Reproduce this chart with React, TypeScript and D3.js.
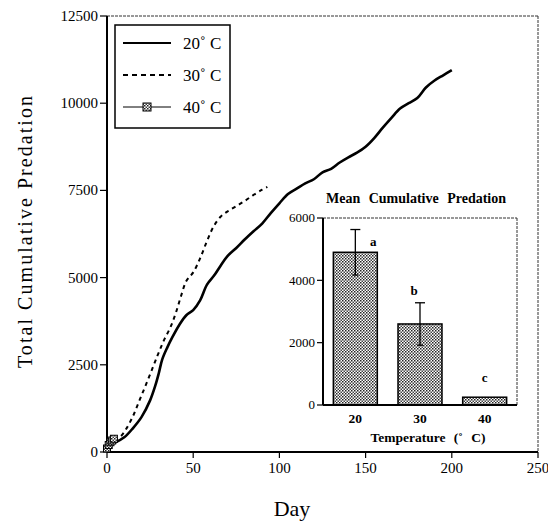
import React from 'react';
import * as d3 from 'd3';

// 20 deg C series (day, cumulative predation)
const days20 = [0, 3, 5, 10, 15, 20, 25, 28, 30, 32, 35, 38, 42, 46, 50, 54, 58, 62, 66, 70, 75, 80, 85, 90, 95, 100, 105, 110, 115, 120, 125, 130, 135, 140, 145, 150, 155, 160, 165, 170, 175, 180, 185, 190, 195, 200];
const values20 = [200, 250, 280, 420, 680, 1000, 1480, 1900, 2250, 2650, 3000, 3300, 3650, 3920, 4070, 4350, 4800, 5050, 5350, 5620, 5850, 6100, 6330, 6550, 6850, 7130, 7400, 7550, 7700, 7820, 8020, 8120, 8300, 8450, 8580, 8750, 9000, 9300, 9580, 9850, 10000, 10150, 10450, 10650, 10800, 10950];

// 30 deg C series
const days30 = [0, 3, 5, 8, 11, 15, 19, 23, 27, 30, 33, 37, 40, 43, 46, 50, 54, 58, 62, 66, 70, 75, 80, 85, 90, 93];
const values30 = [250, 300, 350, 450, 650, 1020, 1500, 1980, 2480, 2850, 3200, 3600, 4000, 4480, 4900, 5150, 5550, 6050, 6480, 6750, 6900, 7050, 7200, 7370, 7520, 7600];

// 40 deg C series
const days40 = [0, 1, 2, 3, 4];
const values40 = [100, 200, 280, 330, 380];

const xTicks = [0, 50, 100, 150, 200, 250];
const yTicks = [0, 2500, 5000, 7500, 10000, 12500];

const legendLabels = ['20˚ C', '30˚ C', '40˚ C'];

// inset bar chart
const temps = ['20', '30', '40'];
const means = [4900, 2600, 250];
const errors = [730, 680, 0];
const groupLetters = ['a', 'b', 'c'];
const insetTicks = [0, 2000, 4000, 6000];

const serif = "'Liberation Serif', 'Times New Roman', Times, serif";

function App() {
  const x = d3.scaleLinear().domain([0, 250]).range([107, 538]);
  const y = d3.scaleLinear().domain([0, 12500]).range([452, 16]);

  const line = d3
    .line<[number, number]>()
    .x((d) => x(d[0]))
    .y((d) => y(d[1]))
    .curve(d3.curveCatmullRom);

  const pts20 = days20.map((d, i) => [d, values20[i]] as [number, number]);
  const pts30 = days30.map((d, i) => [d, values30[i]] as [number, number]);
  const pts40 = days40.map((d, i) => [d, values40[i]] as [number, number]);

  const xb = d3.scaleBand().domain(temps).range([323, 517]).paddingInner(0.32).paddingOuter(0.16);
  const yb = d3.scaleLinear().domain([0, 6000]).range([405, 218]);

  const letterPos = (i: number) => {
    const cx = xb(temps[i])! + xb.bandwidth() / 2;
    if (i === 0) return { x: cx + 18, y: yb(means[i] + errors[i]) + 12 };
    if (i === 1) return { x: cx - 6, y: yb(means[i] + errors[i]) - 12 };
    return { x: cx, y: yb(means[i]) - 20 };
  };

  return (
    <svg
      width={548}
      height={525}
      style={{ position: 'absolute', left: 0, top: 0, background: '#fff', fontFamily: serif }}
    >
      <defs>
        <pattern id="dots" width="3" height="3" patternUnits="userSpaceOnUse">
          <rect width="3" height="3" fill="#fff" />
          <rect x="0" y="0" width="1.5" height="1.5" fill="#222" />
          <rect x="1.5" y="1.5" width="1.5" height="1.5" fill="#444" />
        </pattern>
      </defs>

      {/* main frame */}
      <g>
        <line x1={x(0)} x2={x(250)} y1={y(12500)} y2={y(12500)} stroke="#333" strokeWidth={1} strokeDasharray="3 1" />
        <line x1={x(250)} x2={x(250)} y1={y(12500)} y2={y(0)} stroke="#333" strokeWidth={1} strokeDasharray="3 1" />
        <line x1={x(0)} x2={x(0)} y1={y(12500)} y2={y(0)} stroke="#000" strokeWidth={2} />
        <line x1={x(0)} x2={x(250)} y1={y(0)} y2={y(0)} stroke="#000" strokeWidth={2} />
        {xTicks.map((t) => (
          <g key={t} transform={`translate(${x(t)} ${y(0)})`}>
            <line y1={0} y2={6} stroke="#000" strokeWidth={1.2} />
            <text y={21} textAnchor="middle" fontSize={15}>
              {t}
            </text>
          </g>
        ))}
        {yTicks.map((t) => (
          <g key={t} transform={`translate(${x(0)} ${y(t)})`}>
            <line x1={-7} x2={0} stroke="#000" strokeWidth={1.2} />
            <text x={-9} dy="0.33em" textAnchor="end" fontSize={15}>
              {t}
            </text>
          </g>
        ))}
        <text x={292} y={516} textAnchor="middle" fontSize={22}>
          Day
        </text>
        <text
          transform={`translate(32 ${232}) rotate(-90)`}
          textAnchor="middle"
          fontSize={20}
          textLength={272}
          lengthAdjust="spacing"
        >
          Total Cumulative Predation
        </text>
      </g>

      {/* series */}
      <path d={line(pts20)!} fill="none" stroke="#000" strokeWidth={2.6} />
      <path d={line(pts30)!} fill="none" stroke="#000" strokeWidth={2} strokeDasharray="4 4" />
      <path d={line(pts40)!} fill="none" stroke="#000" strokeWidth={1} />
      {pts40.map((p, i) => (
        <rect
          key={i}
          x={x(p[0]) - 3.5}
          y={y(p[1]) - 3.5}
          width={7}
          height={7}
          fill="url(#dots)"
          stroke="#000"
          strokeWidth={1}
        />
      ))}

      {/* legend */}
      <g>
        <rect x={115} y={25} width={115} height={103} fill="#fff" stroke="#000" strokeWidth={1.5} />
        {legendLabels.map((lab, i) => {
          const ly = 43 + i * 32;
          return (
            <g key={lab}>
              <line
                x1={123}
                x2={171}
                y1={ly}
                y2={ly}
                stroke="#000"
                strokeWidth={i === 2 ? 1 : 1.8}
                strokeDasharray={i === 1 ? '5 4' : undefined}
              />
              {i === 2 && (
                <rect x={143} y={ly - 4} width={8} height={8} fill="url(#dots)" stroke="#000" strokeWidth={1} />
              )}
              <text x={183} y={ly + 6} fontSize={17}>
                {lab}
              </text>
            </g>
          );
        })}
      </g>

      {/* inset */}
      <g>
        <text x={416} y={203} textAnchor="middle" fontSize={14} fontWeight="bold" wordSpacing={5}>
          Mean Cumulative Predation
        </text>
        <line x1={323} x2={517} y1={218} y2={218} stroke="#333" strokeWidth={1} strokeDasharray="3 1" />
        <line x1={517} x2={517} y1={218} y2={405} stroke="#333" strokeWidth={1} strokeDasharray="3 1" />
        {temps.map((t, i) => {
          const bx = xb(t)!;
          const cx = bx + xb.bandwidth() / 2;
          return (
            <g key={t}>
              <rect
                x={bx}
                y={yb(means[i])}
                width={xb.bandwidth()}
                height={yb(0) - yb(means[i])}
                fill="url(#dots)"
                stroke="#000"
                strokeWidth={1.5}
              />
              {errors[i] > 0 && (
                <g stroke="#000" strokeWidth={1.3}>
                  <line x1={cx} x2={cx} y1={yb(means[i] - errors[i])} y2={yb(means[i] + errors[i])} />
                  <line x1={cx - 5} x2={cx + 5} y1={yb(means[i] + errors[i])} y2={yb(means[i] + errors[i])} />
                  <line x1={cx - 3} x2={cx + 3} y1={yb(means[i] - errors[i])} y2={yb(means[i] - errors[i])} />
                </g>
              )}
              <text x={letterPos(i).x} y={letterPos(i).y} dy="0.35em" textAnchor="middle" fontSize={13} fontWeight="bold">
                {groupLetters[i]}
              </text>
              <text x={cx} y={423} textAnchor="middle" fontSize={13.5} fontWeight="bold">
                {t}
              </text>
            </g>
          );
        })}
        <line x1={323} x2={323} y1={218} y2={405} stroke="#000" strokeWidth={2} />
        <line x1={323} x2={517} y1={405} y2={405} stroke="#000" strokeWidth={2} />
        {insetTicks.map((t) => (
          <g key={t} transform={`translate(323 ${yb(t)})`}>
            <line x1={-6} x2={0} stroke="#000" strokeWidth={1.2} />
            <text x={-8} dy="0.33em" textAnchor="end" fontSize={13}>
              {t}
            </text>
          </g>
        ))}
        <text x={428} y={442} textAnchor="middle" fontSize={13.5} fontWeight="bold" wordSpacing={5}>
          Temperature (˚ C)
        </text>
      </g>
    </svg>
  );
}

export default App;
